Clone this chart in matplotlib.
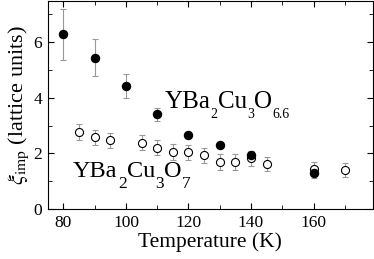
import matplotlib
matplotlib.use("Agg")
import matplotlib.pyplot as plt
from matplotlib.ticker import MultipleLocator

plt.rcParams['font.family'] = ['Liberation Serif', 'DejaVu Serif']
plt.rcParams['mathtext.fontset'] = 'stix'

# YBa2Cu3O6.6 (filled)
t_66 = [80, 90, 100, 110, 120, 130, 140, 160]
xi_66 = [6.29, 5.45, 4.42, 3.40, 2.67, 2.30, 1.94, 1.28]
err_66 = [0.92, 0.65, 0.42, 0.23, 0.10, 0.08, 0.10, 0.15]

# YBa2Cu3O7 (open)
t_7 = [85, 90, 95, 105, 110, 115, 120, 125, 130, 135, 140, 145, 160, 170]
xi_7 = [2.78, 2.58, 2.47, 2.39, 2.21, 2.06, 2.04, 1.93, 1.69, 1.69, 1.82, 1.61, 1.44, 1.40]
err_7 = [0.28, 0.28, 0.28, 0.28, 0.28, 0.28, 0.28, 0.28, 0.28, 0.28, 0.28, 0.25, 0.25, 0.25]

label_66 = [('YBa', 'm'), ('2', 's'), ('Cu', 'm'), ('3', 's'), ('O', 'm'), ('6.6', 's')]
label_7 = [('YBa', 'm'), ('2', 's'), ('Cu', 'm'), ('3', 's'), ('O', 'm'), ('7', 's')]

fig = plt.figure(figsize=(3.74, 2.59), dpi=100)
ax = fig.add_axes([0.128, 0.193, 0.869, 0.805])

ax.errorbar(t_7, xi_7, yerr=err_7, fmt='o', mfc='white', mec='black', mew=0.8,
            ms=5.8, ecolor='#999999', elinewidth=0.8, capsize=2, capthick=0.8, zorder=2)
ax.errorbar(t_66, xi_66, yerr=err_66, fmt='o', mfc='black', mec='black',
            ms=5.8, ecolor='#999999', elinewidth=0.8, capsize=2, capthick=0.8, zorder=3)


def chem_label(x, y, pieces, main_size, sub_size, drop):
    first = ax.text(x, y, pieces[0][0], fontsize=main_size, va='baseline', ha='left')
    prev = first
    for s, kind in pieces[1:]:
        if kind == 'm':
            prev = ax.annotate(s, xy=(1, 0), xycoords=(prev, first), xytext=(0, 0),
                               textcoords='offset points', fontsize=main_size,
                               va='bottom', ha='left')
        else:
            d_main = 0.216 * main_size
            d_sub = 0.216 * sub_size
            dy = -drop - d_sub + d_main
            prev = ax.annotate(s, xy=(1, 0), xycoords=(prev, first), xytext=(0.3, dy),
                               textcoords='offset points', fontsize=sub_size,
                               va='bottom', ha='left')
    return first


chem_label(112.3, 3.62, label_66, 18, 10, 7.0)
chem_label(83.1, 1.14, label_7, 17.5, 12.5, 8.0)

ax.set_xlim(75, 179)
ax.set_ylim(0, 7.5)
ax.xaxis.set_major_locator(MultipleLocator(20))
ax.xaxis.set_minor_locator(MultipleLocator(10))
ax.yaxis.set_major_locator(MultipleLocator(2))
ax.yaxis.set_minor_locator(MultipleLocator(1))
ax.tick_params(which='both', direction='in', top=True, right=True, labelsize=12.5, pad=4)
ax.tick_params(which='major', length=4)
ax.tick_params(which='minor', length=3)

ax.set_xlabel('Temperature (K)', fontsize=15.5, labelpad=1)
ax.set_ylabel(r'$\xi_{\rm imp}$ (lattice units)', fontsize=16, labelpad=2)

fig.savefig('out.png', dpi=100)
